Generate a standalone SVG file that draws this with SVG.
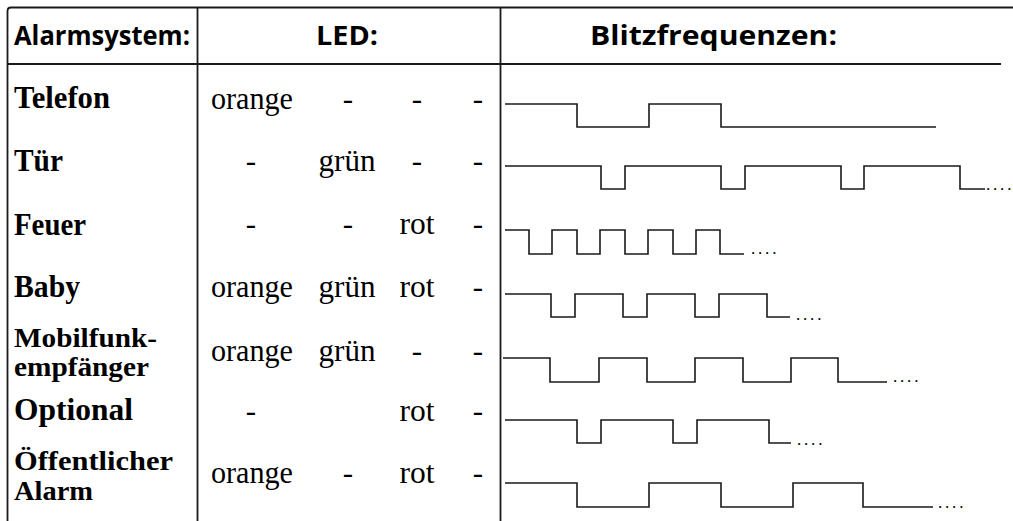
<svg xmlns="http://www.w3.org/2000/svg" width="1013" height="521" viewBox="0 0 1013 521">
<style>
.grid{fill:none;stroke:#1a1a1a;stroke-width:1.8}
.wave{fill:none;stroke:#1a1a1a;stroke-width:1.6}
.hd{font-family:"Open Sans","Noto Sans","Liberation Sans",sans-serif;font-weight:700;font-size:26px;fill:#000}
.lbl{font-family:"Liberation Serif","DejaVu Serif",serif;font-weight:700;font-size:31px;fill:#000}
.lbl2{font-family:"Liberation Serif","DejaVu Serif",serif;font-weight:700;font-size:27px;fill:#000}
.val{font-family:"Liberation Serif","DejaVu Serif",serif;font-size:31px;fill:#000;text-anchor:middle}
.dots{font-family:"Liberation Serif",serif;font-size:17px;letter-spacing:2.8px;fill:#000}
</style>
<rect width="1013" height="521" fill="#fff"/>
<g id="grid">
<path class="grid" d="M7.5,521 V11 Q7.5,7.5 11,7.5 H1013"/>
<path class="grid" d="M7.5,64 H1001"/>
<path class="grid" d="M197.5,7.5 V521"/>
<path class="grid" d="M500.5,7.5 V521"/>
</g>
<g id="header">
<text class="hd" x="14" y="45" textLength="176" lengthAdjust="spacingAndGlyphs">Alarmsystem:</text>
<text class="hd" x="316" y="45" textLength="62" lengthAdjust="spacingAndGlyphs">LED:</text>
<text class="hd" x="590" y="45" textLength="247" lengthAdjust="spacingAndGlyphs">Blitzfrequenzen:</text>
</g>
<g id="row-telefon">
<text class="lbl" x="14" y="108" textLength="96" lengthAdjust="spacingAndGlyphs">Telefon</text>
<text class="val" x="252" y="109" textLength="82" lengthAdjust="spacingAndGlyphs">orange</text>
<text class="val" x="348" y="109">-</text>
<text class="val" x="417" y="109">-</text>
<text class="val" x="478" y="109">-</text>
<path class="wave" d="M505,104 H577 V127 H649 V104 H721 V127 H936"/>
</g>
<g id="row-tuer">
<text class="lbl" x="14" y="171" textLength="49" lengthAdjust="spacingAndGlyphs">Tür</text>
<text class="val" x="251" y="171">-</text>
<text class="val" x="347" y="171" textLength="57" lengthAdjust="spacingAndGlyphs">grün</text>
<text class="val" x="417" y="171">-</text>
<text class="val" x="478" y="171">-</text>
<path class="wave" d="M505,166 H601 V189 H625 V166 H721 V189 H745 V166 H841 V189 H864 V166 H960 V189 H985"/>
<text class="dots" x="986" y="190">....</text>
</g>
<g id="row-feuer">
<text class="lbl" x="14" y="235" textLength="72" lengthAdjust="spacingAndGlyphs">Feuer</text>
<text class="val" x="251" y="234">-</text>
<text class="val" x="348" y="234">-</text>
<text class="val" x="417" y="234" textLength="35" lengthAdjust="spacingAndGlyphs">rot</text>
<text class="val" x="478" y="234">-</text>
<path class="wave" d="M505,230 H529 V254 H552 V230 H577 V254 H600 V230 H625 V254 H648 V230 H673 V254 H696 V230 H720 V254 H744"/>
<text class="dots" x="751" y="254">....</text>
</g>
<g id="row-baby">
<text class="lbl" x="14" y="297" textLength="66" lengthAdjust="spacingAndGlyphs">Baby</text>
<text class="val" x="252" y="297" textLength="82" lengthAdjust="spacingAndGlyphs">orange</text>
<text class="val" x="347" y="297" textLength="57" lengthAdjust="spacingAndGlyphs">grün</text>
<text class="val" x="417" y="297" textLength="35" lengthAdjust="spacingAndGlyphs">rot</text>
<text class="val" x="478" y="297">-</text>
<path class="wave" d="M505,294 H551 V317 H575 V294 H623 V317 H647 V294 H695 V317 H719 V294 H767 V317 H790"/>
<text class="dots" x="796" y="320">....</text>
</g>
<g id="row-mobilfunk">
<text class="lbl2" x="14" y="347" textLength="143" lengthAdjust="spacingAndGlyphs">Mobilfunk-</text>
<text class="lbl2" x="14" y="376" textLength="135" lengthAdjust="spacingAndGlyphs">empfänger</text>
<text class="val" x="252" y="361" textLength="82" lengthAdjust="spacingAndGlyphs">orange</text>
<text class="val" x="347" y="361" textLength="57" lengthAdjust="spacingAndGlyphs">grün</text>
<text class="val" x="417" y="361">-</text>
<text class="val" x="478" y="361">-</text>
<path class="wave" d="M503,358 H550 V382 H599 V358 H647 V382 H695 V358 H743 V382 H791 V358 H838 V382 H887"/>
<text class="dots" x="893" y="382">....</text>
</g>
<g id="row-optional">
<text class="lbl" x="14" y="420" textLength="119" lengthAdjust="spacingAndGlyphs">Optional</text>
<text class="val" x="251" y="421">-</text>
<text class="val" x="417" y="421" textLength="35" lengthAdjust="spacingAndGlyphs">rot</text>
<text class="val" x="478" y="421">-</text>
<path class="wave" d="M505,420 H577 V443 H601 V420 H673 V443 H697 V420 H769 V443 H791"/>
<text class="dots" x="797" y="445">....</text>
</g>
<g id="row-oeffentlich">
<text class="lbl2" x="14" y="470" textLength="159" lengthAdjust="spacingAndGlyphs">Öffentlicher</text>
<text class="lbl2" x="14" y="500" textLength="79" lengthAdjust="spacingAndGlyphs">Alarm</text>
<text class="val" x="252" y="483" textLength="82" lengthAdjust="spacingAndGlyphs">orange</text>
<text class="val" x="348" y="483">-</text>
<text class="val" x="417" y="483" textLength="35" lengthAdjust="spacingAndGlyphs">rot</text>
<text class="val" x="478" y="483">-</text>
<path class="wave" d="M505,483 H577 V507 H649 V483 H721 V507 H793 V483 H863 V507 H933"/>
<text class="dots" x="938" y="508">....</text>
</g>
</svg>
